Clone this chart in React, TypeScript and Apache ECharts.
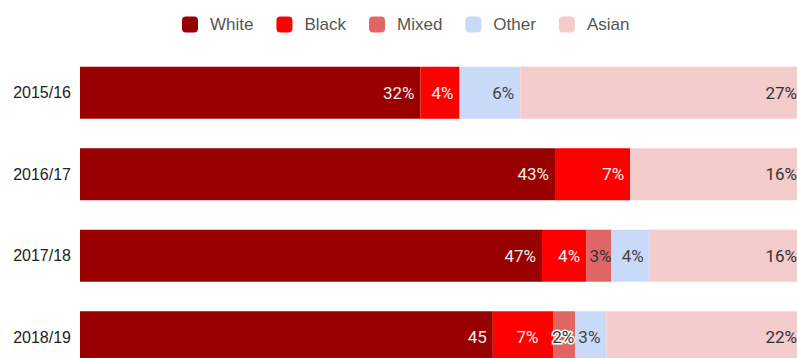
import React, { useEffect, useRef } from "react";
import * as echarts from "echarts";

const categories = ["2015/16", "2016/17", "2017/18", "2018/19"];
const seriesNames = ["White", "Black", "Mixed", "Other", "Asian"];
const colors = ["#990000", "#ff0000", "#e06666", "#c9daf8", "#f4cccc"];

// Share of each bar (percent of full bar length)
const whiteValues = [47.1, 65.7, 63.9, 57.1];
const blackValues = [5.4, 10.4, 6.1, 8.4];
const mixedValues = [0, 0, 3.5, 3.0];
const otherValues = [8.4, 0, 5.3, 4.3];
const asianValues = [39.1, 23.9, 21.2, 27.2];

// Printed data labels
const whiteLabels = ["32%", "43%", "47%", "45"];
const blackLabels = ["4%", "7%", "4%", "7%"];
const mixedLabels = ["", "", "3%", "2%"];
const otherLabels = ["6%", "", "4%", "3%"];
const asianLabels = ["27%", "16%", "16%", "22%"];

const allValues = [whiteValues, blackValues, mixedValues, otherValues, asianValues];
const allLabels = [whiteLabels, blackLabels, mixedLabels, otherLabels, asianLabels];
const labelColors = ["#f4eeee", "#fbeeee", "#333333", "#444444", "#333333"];

export default function App() {
  const ref = useRef<HTMLDivElement>(null);
  useEffect(() => {
    if (!ref.current) return;
    const chart = echarts.init(ref.current, null, { renderer: "svg" });
    const series = seriesNames.map((name, si) => ({
      name,
      type: "bar",
      stack: "total",
      barWidth: 52,
      itemStyle: { color: colors[si] },
      emphasis: { disabled: true },
      label: {
        show: true,
        position: "insideRight",
        distance: 6,
        color: labelColors[si],
        fontFamily: "Roboto",
        fontSize: 17,
      },
      data: allValues[si].map((v, i) => {
        const text = allLabels[si][i];
        const item: any = {
          value: v,
          label: { show: text !== "", formatter: text },
        };
        if (si === 1 && i === 3) item.label.distance = 15;
        if (si === 2) {
          item.label.distance = i === 3 ? 1 : 0;
          if (i === 3) {
            item.label.textBorderColor = "#ffffff";
            item.label.textBorderWidth = 3;
          }
        }
        return item;
      }),
    }));
    chart.setOption({
      animation: false,
      legend: {
        top: 11,
        left: 177,
        itemWidth: 16,
        itemHeight: 16,
        itemGap: 23,
        icon: "roundRect",
        data: seriesNames,
        textStyle: {
          fontFamily: "Liberation Sans",
          fontSize: 17,
          color: "#555555",
          padding: [0, 0, 0, 7],
        },
      },
      grid: {
        left: 80,
        top: 52,
        width: 723,
        height: 326,
        containLabel: false,
        outerBoundsMode: "none",
      },
      xAxis: { type: "value", min: 0, max: 100, show: false },
      yAxis: {
        type: "category",
        inverse: true,
        data: categories,
        axisLine: { show: false },
        axisTick: { show: false },
        axisLabel: {
          margin: 9,
          fontFamily: "Liberation Sans",
          fontSize: 16,
          color: "#222222",
        },
      },
      series,
    });
    return () => chart.dispose();
  }, []);
  return <div ref={ref} style={{ width: 797, height: 358, position: "absolute", left: 0, top: 0 }} />;
}
